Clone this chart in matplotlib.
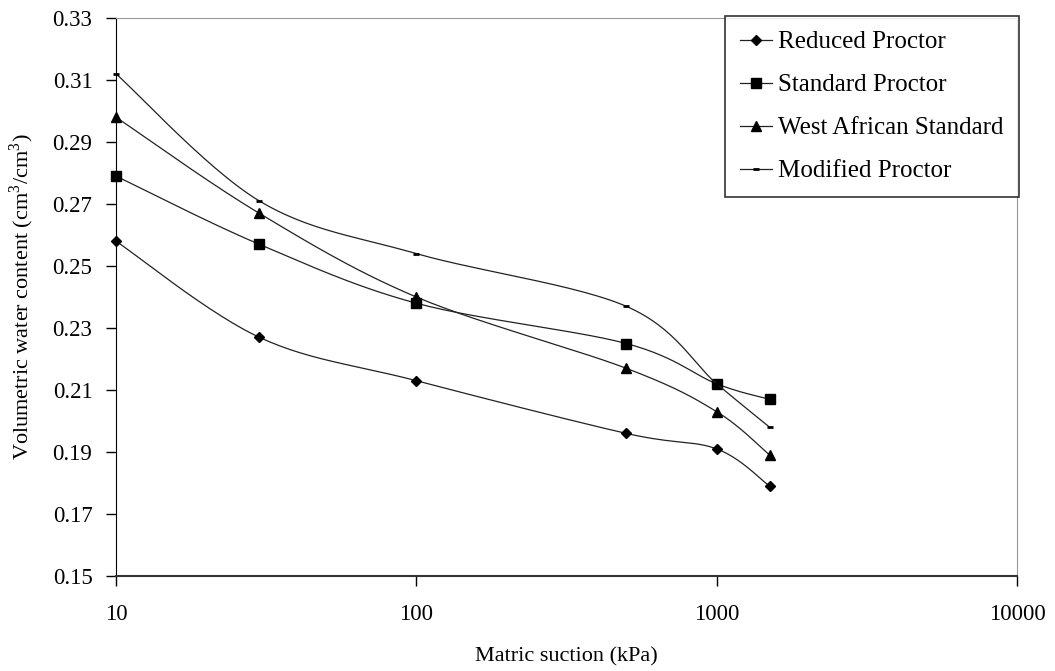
import numpy as np
import matplotlib
matplotlib.use("Agg")
import matplotlib.pyplot as plt

plt.rcParams['font.family'] = ['Liberation Serif', 'DejaVu Serif']
plt.rcParams['mathtext.fontset'] = 'custom'
plt.rcParams['mathtext.rm'] = 'Liberation Serif'

# data
suction = [10, 30, 100, 500, 1000, 1500]
reduced = [0.258, 0.227, 0.213, 0.196, 0.191, 0.179]
standard = [0.279, 0.257, 0.238, 0.225, 0.212, 0.207]
west_african = [0.298, 0.267, 0.240, 0.217, 0.203, 0.189]
modified = [0.312, 0.271, 0.254, 0.237, 0.212, 0.198]

series = [
    ("Reduced Proctor", reduced, "D", 5),
    ("Standard Proctor", standard, "s", 7),
    ("West African Standard", west_african, "^", 7),
    ("Modified Proctor", modified, "_", 5),
]


def smooth(xs, ys, n=30):
    # Excel-like smoothed line (Bezier through the points), in log-x space
    lx = np.log10(xs)
    ys = np.asarray(ys, dtype=float)
    sx = lx / 3.0
    sy = (ys - 0.15) / 0.18 * (558 / 901)
    P = np.column_stack([sx, sy])
    P = np.vstack([P[0], P, P[-1]])
    out = []
    for i in range(1, len(P) - 2):
        p0, p1, p2, p3 = P[i - 1], P[i], P[i + 1], P[i + 2]
        c1 = p1 + (p2 - p0) / 6
        c2 = p2 - (p3 - p1) / 6
        t = np.linspace(0, 1, n)[:, None]
        b = ((1 - t) ** 3) * p1 + 3 * ((1 - t) ** 2) * t * c1 + 3 * (1 - t) * t ** 2 * c2 + t ** 3 * p2
        out.append(b if i == 1 else b[1:])
    out = np.vstack(out)
    xo = 10 ** (out[:, 0] * 3.0)
    yo = out[:, 1] * (901 / 558) * 0.18 + 0.15
    return xo, yo


fig = plt.figure(figsize=(10.55, 6.71), dpi=100)
ax = fig.add_axes([0.110, 0.1416, 0.854, 0.8315])

for name, vals, mk, ms in series:
    xs, ys = smooth(suction, vals)
    ax.plot(xs, ys, color="#222222", lw=0.9)
    ax.plot(suction, vals, linestyle="none", marker=mk, ms=ms, color="black",
            mew=2 if mk == "_" else 1, clip_on=False)
    ax.plot([], [], color="#222222", lw=0.9, marker=mk, ms=ms,
            mew=2 if mk == "_" else 1, mec="black", mfc="black", label=name)

ax.set_xscale("log")
ax.set_xlim(10, 10000)
ax.set_ylim(0.15, 0.33)
yt = np.arange(0.15, 0.331, 0.02)
ax.set_yticks(yt)
ax.set_yticklabels([f"{v:.2f}" for v in yt])
ax.set_xticks([10, 100, 1000, 10000])
ax.set_xticklabels(["10", "100", "1000", "10000"])
ax.xaxis.set_minor_locator(matplotlib.ticker.NullLocator())
ax.tick_params(axis="both", direction="out", length=7, width=1, labelsize=16.5)
ax.tick_params(axis="x", pad=13)
ax.tick_params(axis="y", pad=10)

ax.spines["left"].set_color("black")
ax.spines["bottom"].set_color("#333333")
ax.spines["bottom"].set_linewidth(1.5)
ax.spines["top"].set_color("#999999")
ax.spines["right"].set_color("#999999")

ax.set_xlabel("Matric suction (kPa)", fontsize=16, labelpad=16)
ax.set_ylabel("Volumetric water content (cm$^3$/cm$^3$)", fontsize=16, labelpad=12)

leg = ax.legend(loc="upper right", bbox_to_anchor=(1.002, 1.004), fontsize=18,
                frameon=True, fancybox=False, edgecolor="black",
                handlelength=1.3, handletextpad=0.25, labelspacing=0.82,
                borderpad=0.6, borderaxespad=0)
leg.get_frame().set_linewidth(1.2)

fig.savefig("out.png", dpi=100)
